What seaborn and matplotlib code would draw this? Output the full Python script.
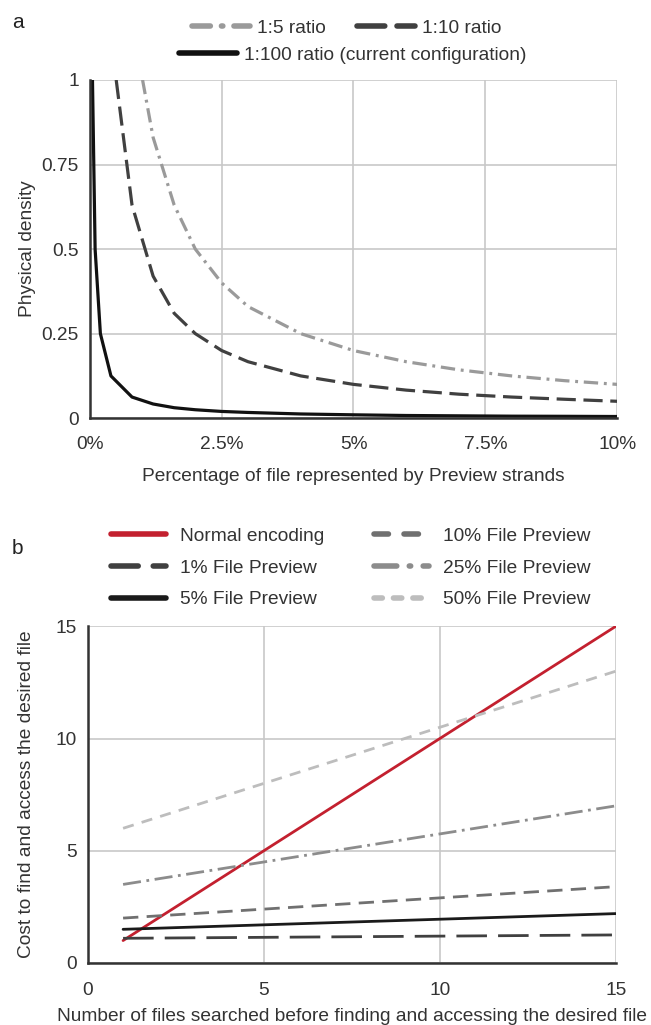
import numpy as np
import pandas as pd
import matplotlib
matplotlib.use("Agg")
import matplotlib.pyplot as plt
import seaborn as sns
from matplotlib.lines import Line2D

sns.set_style("white")
plt.rcParams['font.family'] = ['Liberation Sans', 'DejaVu Sans']

# ---- panel a: physical density vs preview percentage ----
pct_5 = [1.0, 1.2, 1.6, 2.0, 2.5, 3.0, 4.0, 5.0, 6.0, 7.0, 8.0, 9.0, 10.0]
dens_5 = [1.0, 0.83, 0.63, 0.5, 0.4, 0.33, 0.25, 0.2, 0.167, 0.143, 0.125, 0.111, 0.1]

pct_10 = [0.5, 0.8, 1.2, 1.6, 2.0, 2.5, 3.0, 4.0, 5.0, 6.0, 7.0, 8.0, 9.0, 10.0]
dens_10 = [1.0, 0.63, 0.42, 0.31, 0.25, 0.2, 0.167, 0.125, 0.1, 0.083, 0.071, 0.0625, 0.056, 0.05]

pct_100 = [0.05, 0.1, 0.2, 0.4, 0.8, 1.2, 1.6, 2.0, 2.5, 3.0, 4.0, 5.0, 6.0, 7.0, 8.0, 9.0, 10.0]
dens_100 = [1.0, 0.5, 0.25, 0.125, 0.0625, 0.042, 0.031, 0.025, 0.02, 0.017, 0.0125, 0.01,
            0.008, 0.007, 0.006, 0.0056, 0.005]

# ---- panel b: cost vs number of files searched ----
n_files = [1, 15]
cost_normal = [1.0, 15.0]
cost_p1 = [1.1, 1.25]
cost_p5 = [1.5, 2.2]
cost_p10 = [2.0, 3.4]
cost_p25 = [3.5, 7.0]
cost_p50 = [6.0, 13.0]

text_col = '#333333'
grid_col = '#c8c8c8'
spine_col = '#333333'
fs = 13.8

fig = plt.figure(figsize=(6.51, 10.25), dpi=100)
ax1 = fig.add_axes([0.138, 0.592, 0.810, 0.330])
ax2 = fig.add_axes([0.135, 0.0605, 0.811, 0.3285])


def style_axes(ax, xpad, ypad):
    ax.grid(True, color=grid_col, linewidth=1.2)
    ax.set_axisbelow(True)
    for s in ['top', 'right']:
        ax.spines[s].set_visible(False)
    for s in ['left', 'bottom']:
        ax.spines[s].set_color(spine_col)
        ax.spines[s].set_linewidth(1.8)
    ax.tick_params(axis='both', length=0, labelsize=fs, labelcolor=text_col)
    ax.tick_params(axis='x', pad=xpad)
    ax.tick_params(axis='y', pad=ypad)


def legend_handle(col, dash):
    h = Line2D([0], [0], color=col, linewidth=4, solid_capstyle='round', dash_capstyle='round')
    if dash:
        h.set_dashes(dash)
    return h


# panel a
top_series = [
    (pct_5, dens_5, '#9a9a9a', (4.5, 1.8, 0.9, 1.8), (3.3, 2.0, 0.25, 2.0), '1:5 ratio'),
    (pct_10, dens_10, '#404040', (6, 2.4), (5.0, 2.2), '1:10 ratio'),
    (pct_100, dens_100, '#111111', None, None, '1:100 ratio (current configuration)'),
]
top_handles = []
for xs, ys, col, dash, hdash, lab in top_series:
    sns.lineplot(x=xs, y=ys, ax=ax1, color=col, linewidth=2.3, legend=False)
    ln = ax1.lines[-1]
    if dash:
        ln.set_dashes(dash)
    top_handles.append((legend_handle(col, hdash), lab))

ax1.set_xlim(0, 10)
ax1.set_ylim(0, 1)
ax1.set_xticks([0, 2.5, 5, 7.5, 10])
ax1.set_xticklabels(['0%', '2.5%', '5%', '7.5%', '10%'])
ax1.set_yticks([0, 0.25, 0.5, 0.75, 1])
ax1.set_yticklabels(['0', '0.25', '0.5', '0.75', '1'])
style_axes(ax1, 12.5, 8)
ax1.set_xlabel('Percentage of file represented by Preview strands', fontsize=fs,
               color=text_col, labelpad=11)
ax1.set_ylabel('Physical density', fontsize=fs, color=text_col, labelpad=4)

fig.legend([top_handles[0][0], top_handles[1][0]],
           [top_handles[0][1], top_handles[1][1]],
           loc='center', bbox_to_anchor=(0.533, 0.9727), ncol=2, frameon=False,
           fontsize=fs, handlelength=3.0, handletextpad=0.4, columnspacing=1.6,
           labelcolor=text_col, borderpad=0)
fig.legend([top_handles[2][0]], [top_handles[2][1]],
           loc='center', bbox_to_anchor=(0.542, 0.9463), frameon=False,
           fontsize=fs, handlelength=3.0, handletextpad=0.4,
           labelcolor=text_col, borderpad=0)

# panel b
bottom_series = [
    (cost_normal, '#c3202f', None, None, 'Normal encoding'),
    (cost_p1, '#404040', (11, 4), (4.9, 2.7), '1% File Preview'),
    (cost_p5, '#1a1a1a', None, None, '5% File Preview'),
    (cost_p10, '#707070', (5.5, 3), (2.6, 2.8), '10% File Preview'),
    (cost_p25, '#8c8c8c', (6.5, 2, 1, 2), (4.1, 2.25, 0.25, 2.25), '25% File Preview'),
    (cost_p50, '#bdbdbd', (4, 3), (1.5, 2), '50% File Preview'),
]
bottom_handles = []
bottom_labels = []
for ys, col, dash, hdash, lab in bottom_series:
    sns.lineplot(x=n_files, y=ys, ax=ax2, color=col, linewidth=2.0, legend=False)
    ln = ax2.lines[-1]
    if dash:
        ln.set_dashes(dash)
    bottom_handles.append(legend_handle(col, hdash))
    bottom_labels.append(lab)

ax2.set_xlim(0, 15)
ax2.set_ylim(0, 15)
ax2.set_xticks([0, 5, 10, 15])
ax2.set_yticks([0, 5, 10, 15])
style_axes(ax2, 13.5, 8)
ax2.set_xlabel('Number of files searched before finding and accessing the desired file',
               fontsize=fs, color=text_col, labelpad=7)
ax2.set_ylabel('Cost to find and access the desired file', fontsize=fs,
               color=text_col, labelpad=15)

fig.legend(bottom_handles, bottom_labels, loc='center', bbox_to_anchor=(0.539, 0.4459),
           ncol=2, frameon=False, fontsize=fs, handlelength=2.85, handletextpad=0.75,
           columnspacing=2.6, labelspacing=0.75, labelcolor=text_col, borderpad=0)

fig.text(0.018, 0.978, 'a', fontsize=15, color='#222222', va='center')
fig.text(0.018, 0.465, 'b', fontsize=15, color='#222222', va='center')

fig.savefig('out.png', dpi=100)
